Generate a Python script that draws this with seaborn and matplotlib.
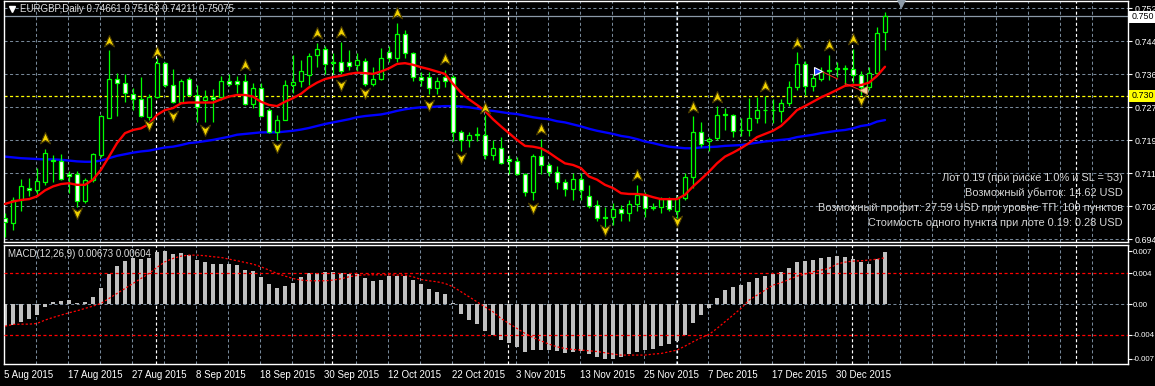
import numpy as np
import matplotlib
matplotlib.use("Agg")
import matplotlib.pyplot as plt
import matplotlib.patches as mpatches
from matplotlib.path import Path
import seaborn as sns

# ---------------- data ----------------
opens = [0.6998, 0.6987, 0.7044, 0.7075, 0.7068, 0.7090, 0.7143, 0.7143, 0.7110, 0.7109,
         0.7042, 0.7095, 0.7157, 0.7250, 0.7348, 0.7338, 0.7311, 0.7297, 0.7252, 0.7302,
         0.7388, 0.7334, 0.7291, 0.7348, 0.7309, 0.7296, 0.7302, 0.7302, 0.7344, 0.7343,
         0.7343, 0.7286, 0.7325, 0.7269, 0.7214, 0.7245, 0.7334, 0.7342, 0.7358, 0.7409,
         0.7423, 0.7390, 0.7391, 0.7391, 0.7383, 0.7394, 0.7336, 0.7348, 0.7415, 0.7400,
         0.7461, 0.7413, 0.7354, 0.7354, 0.7325, 0.7352, 0.7352, 0.7216, 0.7195, 0.7209,
         0.7208, 0.7156, 0.7174, 0.7146, 0.7143, 0.7110, 0.7063, 0.7155, 0.7131, 0.7115,
         0.7090, 0.7071, 0.7096, 0.7054, 0.7032, 0.7001, 0.7001, 0.7021, 0.7011, 0.7034,
         0.7057, 0.7023, 0.7027, 0.7046, 0.7017, 0.7048, 0.7101, 0.7216, 0.7191, 0.7199,
         0.7259, 0.7258, 0.7219, 0.7220, 0.7249, 0.7270, 0.7271, 0.7268, 0.7287, 0.7327,
         0.7386, 0.7331, 0.7348, 0.7370, 0.7375, 0.7374, 0.7373, 0.7358, 0.7327, 0.7364,
         0.74661]
highs = [0.7011, 0.7051, 0.7096, 0.7099, 0.7124, 0.7172, 0.7157, 0.7159, 0.7118, 0.7118,
         0.7099, 0.7163, 0.7258, 0.7421, 0.7364, 0.7361, 0.7325, 0.7353, 0.7311, 0.7400,
         0.7390, 0.7373, 0.7349, 0.7354, 0.7333, 0.7321, 0.7322, 0.7356, 0.7361, 0.7356,
         0.7361, 0.7339, 0.7339, 0.7275, 0.7258, 0.7346, 0.7409, 0.7396, 0.7413, 0.7438,
         0.7430, 0.7413, 0.7442, 0.7421, 0.7413, 0.7400, 0.7379, 0.7425, 0.7430, 0.7490,
         0.7472, 0.7417, 0.7367, 0.7367, 0.7353, 0.7371, 0.7358, 0.7220, 0.7216, 0.7227,
         0.7258, 0.7195, 0.7202, 0.7157, 0.7153, 0.7113, 0.7160, 0.7197, 0.7138, 0.7130,
         0.7096, 0.7111, 0.7111, 0.7082, 0.7044, 0.7027, 0.7036, 0.7032, 0.7044, 0.7082,
         0.7065, 0.7037, 0.7051, 0.7051, 0.7053, 0.7111, 0.7254, 0.7239, 0.7203, 0.7281,
         0.7275, 0.7260, 0.7249, 0.7300, 0.7304, 0.7306, 0.7297, 0.7297, 0.7344, 0.7415,
         0.7394, 0.7361, 0.7379, 0.7409, 0.7392, 0.7384, 0.7423, 0.7369, 0.7379, 0.7480,
         0.75163]
lows = [0.6950, 0.6969, 0.7017, 0.7053, 0.7053, 0.7082, 0.7090, 0.7095, 0.7061, 0.7027,
        0.7036, 0.7090, 0.7153, 0.7249, 0.7255, 0.7291, 0.7271, 0.7252, 0.7245, 0.7300,
        0.7327, 0.7287, 0.7287, 0.7306, 0.7239, 0.7239, 0.7241, 0.7296, 0.7331, 0.7312,
        0.7282, 0.7274, 0.7254, 0.7212, 0.7195, 0.7244, 0.7312, 0.7327, 0.7333, 0.7379,
        0.7361, 0.7361, 0.7361, 0.7371, 0.7369, 0.7331, 0.7331, 0.7346, 0.7392, 0.7392,
        0.7400, 0.7342, 0.7331, 0.7311, 0.7311, 0.7329, 0.7191, 0.7168, 0.7178, 0.7191,
        0.7146, 0.7145, 0.7135, 0.7110, 0.7107, 0.7054, 0.7044, 0.7110, 0.7103, 0.7071,
        0.7053, 0.7043, 0.7044, 0.7023, 0.6992, 0.6977, 0.6981, 0.6990, 0.6992, 0.7017,
        0.7002, 0.7019, 0.7011, 0.7015, 0.6994, 0.7044, 0.7074, 0.7178, 0.7166, 0.7195,
        0.7220, 0.7203, 0.7205, 0.7205, 0.7237, 0.7237, 0.7237, 0.7239, 0.7280, 0.7321,
        0.7308, 0.7317, 0.7342, 0.7346, 0.7354, 0.7331, 0.7338, 0.7308, 0.7321, 0.7361,
        0.74211]
closes = [0.6988, 0.7044, 0.7078, 0.7068, 0.7092, 0.7161, 0.7145, 0.7096, 0.7103, 0.7042,
          0.7095, 0.7159, 0.7255, 0.7348, 0.7338, 0.7312, 0.7297, 0.7254, 0.7302, 0.7388,
          0.7334, 0.7291, 0.7343, 0.7309, 0.7277, 0.7302, 0.7297, 0.7344, 0.7336, 0.7336,
          0.7286, 0.7325, 0.7255, 0.7214, 0.7244, 0.7334, 0.7341, 0.7369, 0.7406, 0.7423,
          0.7385, 0.7388, 0.7369, 0.7381, 0.7396, 0.7336, 0.7348, 0.7400, 0.7400, 0.7461,
          0.7413, 0.7354, 0.7346, 0.7325, 0.7344, 0.7344, 0.7214, 0.7195, 0.7208, 0.7207,
          0.7156, 0.7174, 0.7136, 0.7141, 0.7110, 0.7063, 0.7155, 0.7132, 0.7115, 0.7090,
          0.7071, 0.7096, 0.7068, 0.7029, 0.6998, 0.6998, 0.7021, 0.7011, 0.7034, 0.7057,
          0.7023, 0.7027, 0.7046, 0.7021, 0.7048, 0.7101, 0.7216, 0.7185, 0.7197, 0.7258,
          0.7257, 0.7218, 0.7221, 0.7249, 0.7270, 0.7271, 0.7269, 0.7287, 0.7327, 0.7386,
          0.7331, 0.7350, 0.7369, 0.7368, 0.7374, 0.7375, 0.7358, 0.7327, 0.7364, 0.7463,
          0.75075]
ma_fast = [0.7034, 0.7040, 0.7044, 0.7046, 0.7053, 0.7068, 0.7078, 0.7084, 0.7086, 0.7082,
           0.7082, 0.7095, 0.7120, 0.7153, 0.7187, 0.7212, 0.7220, 0.7224, 0.7235, 0.7258,
           0.7270, 0.7275, 0.7287, 0.7289, 0.7289, 0.7289, 0.7289, 0.7297, 0.7304, 0.7308,
           0.7308, 0.7304, 0.7291, 0.7283, 0.7280, 0.7291, 0.7300, 0.7311, 0.7327, 0.7339,
           0.7348, 0.7353, 0.7356, 0.7361, 0.7364, 0.7363, 0.7361, 0.7367, 0.7375, 0.7386,
           0.7388, 0.7384, 0.7378, 0.7373, 0.7367, 0.7361, 0.7336, 0.7314, 0.7297, 0.7283,
           0.7268, 0.7247, 0.7229, 0.7212, 0.7195, 0.7180, 0.7178, 0.7174, 0.7163, 0.7149,
           0.7136, 0.7132, 0.7124, 0.7103, 0.7095, 0.7082, 0.7074, 0.7061, 0.7059, 0.7059,
           0.7057, 0.7051, 0.7046, 0.7046, 0.7046, 0.7057, 0.7078, 0.7096, 0.7115, 0.7136,
           0.7153, 0.7163, 0.7174, 0.7187, 0.7202, 0.7210, 0.7218, 0.7230, 0.7249, 0.7270,
           0.7280, 0.7291, 0.7302, 0.7311, 0.7321, 0.7331, 0.7333, 0.7333, 0.7339, 0.7356,
           0.7379]
ma_slow = [0.7153, 0.7151, 0.7149, 0.7148, 0.7147, 0.7146, 0.7146, 0.7145, 0.7143, 0.7141,
           0.7140, 0.7140, 0.7143, 0.7149, 0.7155, 0.7159, 0.7163, 0.7166, 0.7168, 0.7172,
           0.7176, 0.7178, 0.7182, 0.7187, 0.7189, 0.7192, 0.7195, 0.7199, 0.7203, 0.7208,
           0.7210, 0.7212, 0.7214, 0.7214, 0.7214, 0.7216, 0.7218, 0.7221, 0.7225, 0.7230,
           0.7235, 0.7239, 0.7243, 0.7247, 0.7252, 0.7255, 0.7257, 0.7259, 0.7263, 0.7268,
           0.7272, 0.7275, 0.7277, 0.7277, 0.7279, 0.7280, 0.7280, 0.7279, 0.7277, 0.7274,
           0.7270, 0.7268, 0.7265, 0.7262, 0.7260, 0.7256, 0.7252, 0.7249, 0.7247, 0.7242,
           0.7239, 0.7234, 0.7229, 0.7223, 0.7218, 0.7214, 0.7210, 0.7205, 0.7202, 0.7197,
           0.7191, 0.7187, 0.7182, 0.7178, 0.7176, 0.7174, 0.7174, 0.7176, 0.7177, 0.7178,
           0.7180, 0.7181, 0.7182, 0.7185, 0.7188, 0.7191, 0.7193, 0.7195, 0.7197, 0.7202,
           0.7205, 0.7208, 0.7212, 0.7215, 0.7218, 0.7220, 0.7224, 0.7230, 0.7233, 0.7241,
           0.7245]
macd_hist = [-0.00287, -0.00274, -0.00230, -0.00191, -0.00143, -0.00043, 0.00022, 0.00043, 0.00052, 0.00017,
             0.00026, 0.00087, 0.00204, 0.00391, 0.00495, 0.00556, 0.00595, 0.00586, 0.00604, 0.00678,
             0.00691, 0.00651, 0.00660, 0.00638, 0.00573, 0.00543, 0.00521, 0.00521, 0.00517, 0.00508,
             0.00443, 0.00430, 0.00356, 0.00261, 0.00208, 0.00235, 0.00269, 0.00347, 0.00400, 0.00400,
             0.00413, 0.00417, 0.00400, 0.00387, 0.00391, 0.00334, 0.00304, 0.00313, 0.00365, 0.00365,
             0.00365, 0.00313, 0.00261, 0.00191, 0.00156, 0.00130, 0.00009, -0.00130, -0.00208, -0.00261,
             -0.00352, -0.00408, -0.00469, -0.00512, -0.00556, -0.00621, -0.00599, -0.00599, -0.00599, -0.00612,
             -0.00634, -0.00621, -0.00612, -0.00651, -0.00686, -0.00712, -0.00712, -0.00686, -0.00656, -0.00625,
             -0.00599, -0.00582, -0.00547, -0.00521, -0.00478, -0.00404, -0.00243, -0.00143, -0.00056, 0.00083,
             0.00182, 0.00217, 0.00248, 0.00291, 0.00334, 0.00365, 0.00395, 0.00417, 0.00469, 0.00547,
             0.00565, 0.00573, 0.00595, 0.00617, 0.00625, 0.00617, 0.00586, 0.00552, 0.00521, 0.00586,
             0.00673]
macd_signal = [-0.00287, -0.00265, -0.00261, -0.00261, -0.00252, -0.00208, -0.00174, -0.00143, -0.00113, -0.00087,
               -0.00056, -0.00026, 0.00009, 0.00074, 0.00139, 0.00204, 0.00269, 0.00334, 0.00400, 0.00478,
               0.00552, 0.00595, 0.00625, 0.00638, 0.00638, 0.00630, 0.00617, 0.00608, 0.00586, 0.00565,
               0.00543, 0.00521, 0.00486, 0.00443, 0.00400, 0.00365, 0.00334, 0.00313, 0.00304, 0.00304,
               0.00304, 0.00313, 0.00330, 0.00356, 0.00373, 0.00382, 0.00382, 0.00382, 0.00382, 0.00378,
               0.00378, 0.00356, 0.00321, 0.00304, 0.00291, 0.00269, 0.00226, 0.00161, 0.00096, 0.00030,
               -0.00035, -0.00100, -0.00187, -0.00252, -0.00317, -0.00382, -0.00434, -0.00478, -0.00521, -0.00556,
               -0.00578, -0.00591, -0.00599, -0.00608, -0.00617, -0.00634, -0.00651, -0.00664, -0.00664, -0.00664,
               -0.00664, -0.00651, -0.00643, -0.00621, -0.00599, -0.00547, -0.00491, -0.00439, -0.00395, -0.00317,
               -0.00230, -0.00143, -0.00056, 0.00052, 0.00117, 0.00182, 0.00248, 0.00278, 0.00321, 0.00365,
               0.00391, 0.00421, 0.00443, 0.00465, 0.00521, 0.00547, 0.00560, 0.00565, 0.00573, 0.00586,
               0.00604]

up_fractal_bar = [5, 13, 19, 30, 39, 42, 49, 55, 60, 67, 79, 86, 89, 95, 99, 103, 106]
up_fractal_price = [0.7199, 0.7445, 0.7417, 0.7384, 0.7463, 0.7467, 0.7515, 0.7398, 0.7275,
                    0.7222, 0.7107, 0.7279, 0.7304, 0.7331, 0.7438, 0.7434, 0.7448]
down_fractal_bar = [9, 18, 21, 25, 34, 42, 45, 53, 57, 66, 75, 84, 107]
down_fractal_price = [0.7011, 0.7233, 0.7255, 0.7220, 0.7178, 0.7333, 0.7312, 0.7283, 0.7149,
                      0.7023, 0.6969, 0.6990, 0.7296]

price_ticks = [0.7526, 0.7443, 0.7360, 0.7277, 0.7194, 0.7111, 0.7028, 0.6945]
price_tick_labels = ["0.752", "0.744", "0.736", "0.727", "0.719", "0.711", "0.702", "0.694"]
macd_ticks = [0.00691, 0.004, 0.0, -0.004, -0.00712]
macd_tick_labels = ["0.007", "0.004", "0.00", "-0.004", "-0.007"]
date_tick_bars = [0, 8, 16, 24, 32, 40, 48, 56, 64, 72, 80, 88, 96, 104]
date_labels = ["5 Aug 2015", "17 Aug 2015", "27 Aug 2015", "8 Sep 2015", "18 Sep 2015",
               "30 Sep 2015", "12 Oct 2015", "22 Oct 2015", "3 Nov 2015", "13 Nov 2015",
               "25 Nov 2015", "7 Dec 2015", "17 Dec 2015", "30 Dec 2015"]
month_sep_bars = [18.9, 40.9, 62.9, 84.0, 105.9, 133.9]

bid_price = 0.75075
hline_price = 0.7306
macd_levels = [0.004, -0.004]

header_text = "EURGBP,Daily 0.74661 0.75163 0.74211 0.75075"
macd_text = "MACD(12,26,9) 0.00673 0.00604"
info_lines = ["Лот 0.19 (при риске 1.0% и SL = 53)",
              "Возможный убыток: 14.62 USD",
              "Возможный профит: 27.59 USD при уровне ТП: 100 пунктов",
              "Стоимость одного пункта при лоте 0.19: 0.28 USD"]

# ---------------- style ----------------
sns.set_theme(style="dark")
plt.rcParams['font.family'] = ['Liberation Sans', 'DejaVu Sans']
plt.rcParams['lines.scale_dashes'] = False

W, H = 1155, 386
fig = plt.figure(figsize=(W / 100, H / 100), dpi=100, facecolor='black')


def px_axes(l, t, r, b):
    return fig.add_axes([l / W, 1 - b / H, (r - l) / W, (b - t) / H])


ax = px_axes(4, 1, 1128, 242)
ax2 = px_axes(4, 245, 1128, 364)

GRID = '#778899'
GREEN = '#00FF00'
XMIN, XMAX = -0.125, 140.375
DASH = (0, (2.2, 1.8))

for a in (ax, ax2):
    a.set_facecolor('black')
    a.set_xlim(XMIN, XMAX)
    for s in a.spines.values():
        s.set_color('white')
        s.set_linewidth(1.0)
    a.grid(False)
    for k in range(35):
        a.axvline(4 * k - 0.125, color=GRID, lw=0.75, ls=DASH, zorder=0)
    for xb in month_sep_bars:
        a.axvline(xb, color='white', lw=0.85, ls=DASH, zorder=0.5)

# ---------------- main panel ----------------
ax.set_ylim(0.69382, 0.75444)
for p in price_ticks:
    ax.axhline(p, color=GRID, lw=0.75, ls=DASH, zorder=0)
ax.axhline(bid_price, color='#8C9AA8', lw=0.9, zorder=0.6)
ax.axhline(hline_price, color='#FFFF00', lw=0.9, ls=DASH, zorder=0.6)

o = np.array(opens); h = np.array(highs); l = np.array(lows); c = np.array(closes)
idx = np.arange(len(c))
bull = c >= o
ax.vlines(idx, l, h, color=GREEN, lw=0.9, zorder=3)
body_bottom = np.minimum(o, c)
body_h = np.maximum(np.abs(c - o), 0.00012)
ax.bar(idx, body_h, bottom=body_bottom, width=0.42,
       color=np.where(bull, 'black', 'white'), edgecolor=GREEN, linewidth=0.9, zorder=4)

sns.lineplot(x=idx, y=ma_slow, ax=ax, color='#0000FF', lw=1.7, estimator=None, zorder=2)
sns.lineplot(x=idx, y=ma_fast, ax=ax, color='#FF0000', lw=1.7, estimator=None, zorder=5)

up_verts = [(0, 1), (0.85, -0.9), (0, -0.35), (-0.85, -0.9), (0, 1)]
codes = [Path.MOVETO, Path.LINETO, Path.LINETO, Path.LINETO, Path.CLOSEPOLY]
up_marker = Path(up_verts, codes)
down_marker = Path([(x, -y) for x, y in up_verts], codes)
ax.plot(up_fractal_bar, up_fractal_price, ls='none', marker=up_marker, ms=8.5,
        mfc='#F2D200', mec='#4A3C00', mew=0.8, zorder=6)
ax.plot(down_fractal_bar, down_fractal_price, ls='none', marker=down_marker, ms=8.5,
        mfc='#F2D200', mec='#4A3C00', mew=0.8, zorder=6)

# trade objects
ax.plot([101.9, 104.1], [0.7369, 0.7348], color='#FF2020', lw=0.7, zorder=6)
ax.plot([105.0, 107.1], [0.7337, 0.7319], color='#FF2020', lw=0.7, zorder=6)
ax.plot([101.6], [0.7369], marker='>', ms=5.5, mfc='#2040FF', mec='white', mew=0.8, zorder=7)
ax.plot([107.3], [0.7321], marker='<', ms=5.5, mfc='#F5D0A0', mec='#C08040', mew=0.6, zorder=7)
ax.plot([112], [0.75393], marker='v', ms=6, color='#8C9AA8', clip_on=False, zorder=7)

ax.yaxis.tick_right()
ax.set_yticks(price_ticks)
ax.set_yticklabels(price_tick_labels)
ax.tick_params(axis='y', colors='white', labelsize=6.4, length=3, width=0.8, pad=1.5,
               right=True, left=False)
ax.set_xticks([])
ax.set_xlabel('')
ax.set_ylabel('')

# ---------------- MACD panel ----------------
ax2.set_ylim(-0.0078, 0.0077)
ax2.axhline(0, color=GRID, lw=0.75, ls=DASH, zorder=0)
for lv in macd_levels:
    ax2.axhline(lv, color='#FF0000', lw=0.9, ls=DASH, zorder=3)
ax2.bar(idx, macd_hist, width=0.38, color='#C0C0C0', linewidth=0, zorder=2)
sns.lineplot(x=idx, y=macd_signal, ax=ax2, color='#FF0000', lw=0.9, estimator=None,
             zorder=4, linestyle=(0, (1.6, 1.4)))
ax2.yaxis.tick_right()
ax2.set_yticks(macd_ticks)
ax2.set_yticklabels(macd_tick_labels)
ax2.tick_params(axis='y', colors='white', labelsize=5.7, length=3, width=0.8, pad=0.5,
                right=True, left=False)
ax2.set_xticks([b - 0.125 for b in date_tick_bars])
ax2.set_xticklabels(date_labels, ha='left')
ax2.tick_params(axis='x', colors='white', labelsize=7, length=3, width=0.8, pad=1.5)
ax2.set_xlabel('')
ax2.set_ylabel('')

# ---------------- texts & boxes ----------------
def ftext(x, y, s, size=7, **kw):
    fig.text(x / W, 1 - y / H, s, va='center', fontsize=size, **kw)


ax.plot([11.5 / W], [1 - 8.5 / H], transform=fig.transFigure, marker='v', ms=5,
        color='white', clip_on=False, zorder=10)
ftext(20, 8.5, header_text, color='#DCDCDC')
ftext(8, 254, macd_text, color='#DCDCDC')
for yy, s in zip([178, 193, 208, 223], info_lines):
    ftext(1123, yy, s, size=7.9, color='#D6D6D6', ha='right')

fig.patches.append(mpatches.Rectangle((1129 / W, 1 - 22.5 / H), 26 / W, 11.5 / H,
                                      transform=fig.transFigure, fc='white', ec='none'))
ftext(1132, 16.8, "0.750", size=6.4, color='black')
fig.patches.append(mpatches.Rectangle((1129 / W, 1 - 101.5 / H), 26 / W, 12 / H,
                                      transform=fig.transFigure, fc='#FFFF00', ec='none'))
ftext(1132, 95.5, "0.730", size=6.4, color='black')

fig.savefig("out.png", dpi=100, facecolor='black')
